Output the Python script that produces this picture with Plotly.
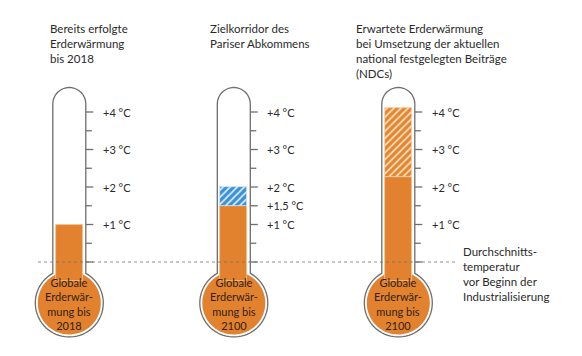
import numpy as np
import plotly.graph_objects as go

# ---------------- data ----------------
titles = [
    "Bereits erfolgte<br>Erderwärmung<br>bis 2018",
    "Zielkorridor des<br>Pariser Abkommens",
    "Erwartete Erderwärmung<br>bei Umsetzung der aktuellen<br>national festgelegten Beiträge<br>(NDCs)",
]
bulb_texts = [
    "Globale<br>Erderwär-<br>mung bis<br>2018",
    "Globale<br>Erderwär-<br>mung bis<br>2100",
    "Globale<br>Erderwär-<br>mung bis<br>2100",
]
thermo_idx = [0, 1, 2]
solid_top = [1.0, 1.5, 2.27]          # °C, solid orange fill
hatch_idx = [1, 2]
hatch_low = [1.5, 2.27]
hatch_high = [2.0, 4.1]
hatch_colors = ["blue", "orange"]
major_ticks = [0, 1, 2, 3, 4]
minor_ticks = [0.5, 1.5, 2.5, 3.5]
tick_label_values = [1, 2, 3, 4]
tick_label_texts = ["+1 °C", "+2 °C", "+3 °C", "+4 °C"]
extra_label = {1: (1.5, "+1,5 °C")}
baseline_text = "Durchschnitts-<br>temperatur<br>vor Beginn der<br>Industrialisierung"

# ---------------- layout helpers (pixel <-> data) ----------------
W, H = 582, 356
CX0, SP = 69.3, 164.5      # px centre of first thermometer, spacing
Y0, PPD = 262.0, 37.5      # px of 0 °C, px per °C

def X(px):
    return (px - CX0) / SP

def Y(py):
    return (Y0 - py) / PPD

def PX(i):
    return CX0 + SP * i

ORANGE = "#E2822F"
GREY = "#6e6e6e"
TXT = "#2a2a2a"
FONT = "Lato"

tube_r = 16.5
fill_half = 13.5
tube_top = 87.5
bulb_cy = 303.0
bulb_R = 34.0
bulb_fill_R = 31.5


def outline_path(cx):
    pts = []
    tc = tube_top + tube_r
    for a in np.linspace(np.pi, 2 * np.pi, 25):
        pts.append((cx + tube_r * np.cos(a), tc + tube_r * np.sin(a)))
    th = np.arctan2(-np.sqrt(bulb_R**2 - tube_r**2), tube_r)
    for a in np.linspace(th, np.pi - th, 60):
        pts.append((cx + bulb_R * np.cos(a), bulb_cy + bulb_R * np.sin(a)))
    d = "M " + " L ".join(f"{X(x):.5f},{Y(y):.5f}" for x, y in pts) + " Z"
    return d


def circle_path(cx, cy, r):
    pts = [(cx + r * np.cos(a), cy + r * np.sin(a)) for a in np.linspace(0, 2 * np.pi, 72)]
    return "M " + " L ".join(f"{X(x):.5f},{Y(y):.5f}" for x, y in pts) + " Z"


shapes = []
for i in thermo_idx:
    cx = PX(i)
    shapes.append(dict(type="path", layer="below", path=outline_path(cx),
                       fillcolor="white", line=dict(color=GREY, width=1.3)))
    shapes.append(dict(type="path", layer="below", path=circle_path(cx, bulb_cy, bulb_fill_R),
                       fillcolor=ORANGE, line=dict(width=0)))
    for t in major_ticks + ([1.5] if i == 1 else []):
        shapes.append(dict(type="line", x0=X(cx + tube_r), x1=X(cx + tube_r + 7.5), y0=t, y1=t,
                           line=dict(color=GREY, width=1.3)))
    for t in minor_ticks:
        if i == 1 and t == 1.5:
            continue
        shapes.append(dict(type="line", x0=X(cx + tube_r), x1=X(cx + tube_r + 6), y0=t, y1=t,
                           line=dict(color=GREY, width=1.3)))
# dotted baseline (drawn over everything, like the reference)
shapes.append(dict(type="line", layer="above", x0=X(38), x1=X(458), y0=0, y1=0,
                   line=dict(color="rgba(110,110,110,0.75)", width=1.2, dash="dot")))

fig = go.Figure()
base = -0.5
fig.add_trace(go.Bar(
    x=thermo_idx, base=[base] * 3, y=[v - base for v in solid_top],
    width=2 * fill_half / SP, marker=dict(color=ORANGE, line=dict(color="#f3c48c", width=0.8)),
    hoverinfo="skip", showlegend=False))

for xi, lo, hi, c in zip(hatch_idx, hatch_low, hatch_high, hatch_colors):
    if c == "blue":
        pat = dict(shape="/", bgcolor="#3a8fd5", fgcolor="#d6eafa", size=5, solidity=0.35, fillmode="replace")
        lc = "#cfe3f5"
        mc = "#3a8fd5"
    else:
        pat = dict(shape="/", bgcolor="#e2852f", fgcolor="#fadcb8", size=5, solidity=0.35, fillmode="replace")
        lc = "#f6d2a8"
        mc = "#e2852f"
    fig.add_trace(go.Bar(
        x=[xi], base=[lo], y=[hi - lo], width=2 * fill_half / SP,
        marker=dict(color=mc, pattern=pat, line=dict(color=lc, width=0.8)),
        hoverinfo="skip", showlegend=False))

annotations = []
title_x = [48, 208, 354]
for i, t in enumerate(titles):
    annotations.append(dict(x=X(title_x[i]), y=Y(19.5), xref="x", yref="y", text=t, showarrow=False,
                            xanchor="left", yanchor="top", align="left",
                            font=dict(family=FONT, size=11.5, color=TXT)))
for i in thermo_idx:
    cx = PX(i)
    labs = list(zip(tick_label_values, tick_label_texts))
    if i in extra_label:
        labs.append(extra_label[i])
    for v, s in labs:
        annotations.append(dict(x=X(cx + 31.5), y=v, xref="x", yref="y", text=s, showarrow=False,
                                xanchor="left", yanchor="middle",
                                font=dict(family=FONT, size=11, color=TXT)))
    annotations.append(dict(x=X(cx), y=Y(bulb_cy + 1), xref="x", yref="y", text=bulb_texts[i],
                            showarrow=False, xanchor="center", yanchor="middle", align="center",
                            font=dict(family=FONT, size=11, color="#33210f")))
annotations.append(dict(x=X(461), y=Y(242.5), xref="x", yref="y", text=baseline_text, showarrow=False,
                        xanchor="left", yanchor="top", align="left",
                        font=dict(family=FONT, size=11.5, color=TXT)))

fig.update_layout(
    width=W, height=H, margin=dict(l=0, r=0, t=0, b=0),
    paper_bgcolor="white", plot_bgcolor="white",
    xaxis=dict(range=[X(0), X(W)], visible=False, fixedrange=True),
    yaxis=dict(range=[Y(H), Y(0)], visible=False, fixedrange=True),
    shapes=shapes, annotations=annotations, barmode="overlay", bargap=0,
)
fig.write_html("out.html", config={"displayModeBar": False},
               post_script="document.body.style.margin='0';document.body.style.overflow='hidden';")
